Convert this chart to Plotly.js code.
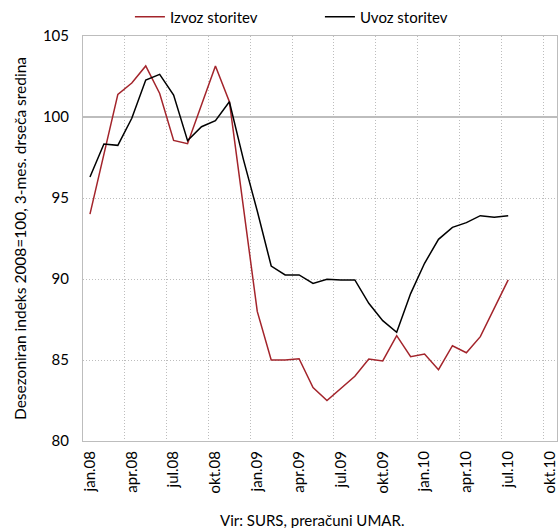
<!DOCTYPE html>
<html>
<head>
<meta charset="utf-8">
<script src="https://cdn.plot.ly/plotly-3.0.1.min.js"></script>
<style>html,body{margin:0;padding:0;background:#fff;}#chart{width:560px;height:528px;}</style>
</head>
<body>
<div id="chart"></div>
<script>
const months = ["jan","feb","mar","apr","maj","jun","jul","avg","sep","okt","nov","dec"];
const years = ["08","09","10"];
const categories = [];
for (const y of years) for (const m of months) categories.push(m + "." + y);
const axisCategories = categories.slice(0, 34); // jan.08 .. okt.10
const dataMonths = categories.slice(0, 31);    // jan.08 .. jul.10

const izvoz = [94.0, 97.8, 101.4, 102.1, 103.15, 101.45, 98.55, 98.35, 100.75, 103.15, 100.95,
               94.5, 88.0, 85.0, 85.0, 85.08, 83.3, 82.5, 83.25, 84.0, 85.06, 84.94,
               86.5, 85.2, 85.37, 84.4, 85.88, 85.45, 86.44, 88.2, 89.95];
const uvoz  = [96.3, 98.33, 98.25, 99.92, 102.28, 102.63, 101.36, 98.54, 99.4, 99.77, 100.94,
               97.4, 94.2, 90.8, 90.25, 90.25, 89.73, 89.98, 89.94, 89.94, 88.5, 87.43,
               86.71, 89.1, 90.97, 92.45, 93.19, 93.48, 93.91, 93.81, 93.91];

const font = "Lato, 'Open Sans', sans-serif";
const traces = [
  {x: dataMonths, y: izvoz, name: "Izvoz storitev", type: "scatter", mode: "lines",
   line: {color: "#A3242B", width: 1.5}},
  {x: dataMonths, y: uvoz, name: "Uvoz storitev", type: "scatter", mode: "lines",
   line: {color: "#000000", width: 1.5}}
];
const layout = {
  width: 560, height: 528,
  margin: {l: 83, r: 3, t: 36, b: 87},
  paper_bgcolor: "#fff", plot_bgcolor: "#fff",
  font: {family: font, size: 15, color: "#000"},
  showlegend: true,
  legend: {orientation: "h", xref: "container", yref: "container", x: 0.232, xanchor: "left",
           y: 0.968, yanchor: "middle",
           font: {family: font, size: 15, color: "#000"}, entrywidth: 145, entrywidthmode: "pixels",
           bgcolor: "rgba(0,0,0,0)", borderwidth: 0},
  xaxis: {type: "category", categoryorder: "array", categoryarray: axisCategories,
          range: [-0.5, 33.5], tickmode: "linear", tick0: 0, dtick: 3, tickson: "boundaries",
          tickangle: -90, ticks: "", showgrid: true, gridcolor: "#BDBDBD", griddash: "1px,2px", gridwidth: 1,
          showline: true, linecolor: "#BDBDBD", linewidth: 1, mirror: true, automargin: false,
          ticklabelstandoff: 3,
          tickfont: {family: font, size: 15, color: "#000"}, fixedrange: true},
  yaxis: {range: [80, 105], tickmode: "linear", tick0: 80, dtick: 5, ticks: "", automargin: false,
          showgrid: true, gridcolor: "#BDBDBD", griddash: "1px,2px", gridwidth: 1,
          showline: true, linecolor: "#BDBDBD", linewidth: 1, mirror: true, zeroline: false,
          ticklabelstandoff: 10,
          tickfont: {family: font, size: 15, color: "#000"},
          title: {text: "Desezoniran indeks 2008=100, 3-mes. drseča sredina", standoff: 12,
                  font: {family: font, size: 15.5, color: "#000"}}},
  shapes: [{type: "line", xref: "paper", x0: 0, x1: 1, yref: "y", y0: 100, y1: 100,
            line: {color: "#BDBDBD", width: 2}, layer: "below"}],
  annotations: [{text: "Vir: SURS, preračuni UMAR.", xref: "paper", yref: "paper", x: 0.483, y: -0.195,
                 xanchor: "center", yanchor: "middle", showarrow: false,
                 font: {family: font, size: 15, color: "#000"}}]
};
Plotly.newPlot("chart", traces, layout, {displayModeBar: false, staticPlot: true});
</script>
</body>
</html>
